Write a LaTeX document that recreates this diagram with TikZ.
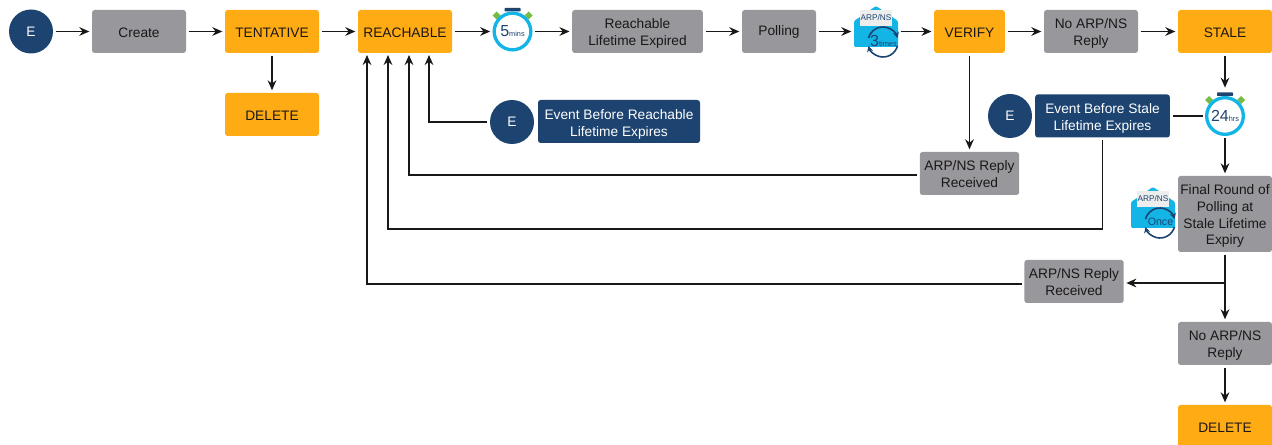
\documentclass[tikz,border=0pt]{standalone}
\usepackage{fontspec}
\setmainfont{Liberation Sans}
\usetikzlibrary{calc,arrows.meta}
\definecolor{statecol}{HTML}{FFAB13}
\definecolor{stepcol}{HTML}{98979B}
\definecolor{eventcol}{HTML}{1D4370}
\definecolor{timercol}{HTML}{12B5E6}
\definecolor{earcol}{HTML}{76BC43}
\definecolor{inkcol}{HTML}{1A1718}
\newcommand{\lowtext}[1][10.5pt]{\rule{0pt}{#1}}
\tikzset{>=stealth,
  flow/.style={draw=inkcol,line width=1.1pt,->,>={Stealth[length=7.5pt,width=6.5pt]}},
  flatline/.style={draw=inkcol,line width=1.1pt},
  basebox/.style={rounded corners=2pt,align=center,text=inkcol,outer sep=2pt,inner sep=0pt,
    minimum height=32.25pt,font=\fontsize{10.3}{12.7}\selectfont,execute at begin node=\lowtext[8.5pt]},
  statebox/.style={basebox,fill=statecol,minimum width=70.5pt},
  stepbox/.style={basebox,fill=stepcol,minimum width=70.5pt},
  eventbox/.style={basebox,fill=eventcol,text=white},
  eventdot/.style={circle,fill=eventcol,text=white,minimum size=33pt,inner sep=0pt,outer sep=2pt,
    font=\fontsize{10.3}{12}\selectfont},
  timerdot/.style={circle,draw=timercol,line width=2.5pt,fill=white,minimum size=27.5pt,inner sep=0pt,
    outer sep=3pt,text=eventcol},
  mailbox/.style={minimum width=33pt,minimum height=20pt,inner sep=0pt,outer sep=2pt},
  turnarrow/.style={eventcol,line width=1.2pt,->,>={Stealth[length=4.5pt,width=4.5pt]}},
}
% #1 node name, #2 position, #3 big text, #4 small text
\newcommand{\stopwatch}[4]{
  \fill[earcol] ($(#2)+(-20,-16)$) -- ++(4,-4) -- ++(4,4) -- ++(-4,4) -- cycle;
  \fill[earcol] ($(#2)+(20,-16)$) -- ++(-4,-4) -- ++(-4,4) -- ++(4,4) -- cycle;
  \fill[eventcol,rounded corners=0.5pt] ($(#2)+(-8,-23.5)$) rectangle ($(#2)+(8,-20)$);
  \node[timerdot] (#1) at (#2) {\fontsize{12}{12}\selectfont #3\fontsize{5.5}{5.5}\selectfont #4};
}
% #1 node name, #2 left end of the envelope, #3 text
\newcommand{\mailicon}[3]{
  \begin{scope}[shift={(#2)}]
    \fill[timercol,rounded corners=1pt] (0,46) -- (0,20) -- (22,5) -- (44,20) -- (44,46) -- cycle;
    \fill[white!93!black] (6,9) rectangle (38,25);
    \node[text=eventcol,inner sep=0pt] (#1paper) at (22,16.5) {\fontsize{6.2}{7}\selectfont ARP/NS};
    \draw[turnarrow] (29,41) ++(195:15) arc[start angle=195,end angle=345,radius=15];
    \draw[turnarrow] (29,41) ++(15:15) arc[start angle=15,end angle=165,radius=15];
    \node[text=eventcol,inner sep=0pt] (#1text) at (29.5,40) {#3};
  \end{scope}
}
\begin{document}
\begin{tikzpicture}[x=0.75pt,y=-0.75pt]
  \useasboundingbox (0,0) rectangle (1272,445);
  \node[eventdot] (startdot) at (31,31.5) {E};
  \node[stepbox] (create) at (139,31.5) {Create};
  \node[statebox] (tentative) at (272,31.5) {TENTATIVE};
  \node[statebox] (delone) at (272,114.5) {DELETE};
  \node[statebox] (reachable) at (405,31.5) {REACHABLE};
  \stopwatch{fivemins}{512.5,31.5}{5}{mins}
  \node[stepbox,minimum width=98pt] (expired) at (637.5,31.5) {\lowtext Reachable\\Lifetime Expired};
  \node[stepbox,minimum width=55.5pt] (polling) at (779,31.5) {Polling};
  \node[mailbox] (threemail) at (876,31.5) {};
  \mailicon{threemail}{854,1}{\fontsize{12}{12}\selectfont 3\fontsize{5.6}{5.6}\selectfont times}
  \node[statebox,minimum width=53pt] (verify) at (969.5,31.5) {VERIFY};
  \node[stepbox] (noreply) at (1091,31.5) {\lowtext No ARP/NS\\Reply};
  \node[statebox] (stale) at (1225,31.5) {STALE};
  \stopwatch{dayhrs}{1225,116}{24}{hrs}
  \node[eventbox,minimum width=101pt] (staleevent) at (1102.5,116) {\lowtext Event Before Stale\\Lifetime Expires};
  \node[eventdot] (staledot) at (1010,116) {E};
  \node[eventdot] (reachdot) at (512,122) {E};
  \node[eventbox,minimum width=121.5pt] (reachevent) at (619,121.5) {\lowtext[12pt]Event Before Reachable\\Lifetime Expires};
  \node[stepbox,minimum width=74.5pt] (replyone) at (969.5,173.5) {\lowtext[9pt]ARP/NS Reply\\Received};
  \node[stepbox,minimum height=57pt] (final) at (1225,214) {\lowtext Final Round of\\Polling at\\Stale Lifetime\\Expiry};
  \node[mailbox] (oncemail) at (1153,214) {};
  \mailicon{oncemail}{1131,182}{\fontsize{8}{8}\selectfont Once}
  \node[stepbox,minimum width=74.5pt] (replytwo) at (1074,281.5) {\lowtext[9pt]ARP/NS Reply\\Received};
  \node[stepbox] (noreplytwo) at (1225,343.5) {\lowtext No ARP/NS\\Reply};
  \node[statebox] (deltwo) at (1225,426.5) {DELETE};
  \coordinate (tapa) at (429,55);
  \coordinate (tapb) at (409,55);
  \coordinate (tapc) at (388,55);
  \coordinate (tapd) at (367,55);
  \coordinate (finaltap) at (1225,283);
  \draw[flow] (startdot) -- (create);
  \draw[flow] (create) -- (tentative);
  \draw[flow] (tentative) -- (delone);
  \draw[flow] (tentative) -- (reachable);
  \draw[flow] (reachable) -- (fivemins);
  \draw[flow] (fivemins) -- (expired);
  \draw[flow] (expired) -- (polling);
  \draw[flow] (polling) -- (threemail);
  \draw[flow] (threemail) -- (verify);
  \draw[flow] (verify) -- (noreply);
  \draw[flow] (noreply) -- (stale);
  \draw[flow,shorten >=4.5pt] (stale) -- (dayhrs);
  \draw[flatline] (staleevent) -- (dayhrs);
  \draw[flow] (dayhrs) -- (final);
  \draw[flow] (final) -- (noreplytwo);
  \draw[flow] (noreplytwo) -- (deltwo);
  \draw[flow] (verify) -- (replyone);
  \draw[flow] (finaltap) -- (finaltap -| replytwo.east);
  \draw[flow] (reachdot) -| (tapa);
  \draw[flow] (replyone.west |- 0,175) -| (tapb);
  \draw[flow] (staleevent.south) -- ++(0,89) -| (tapc);
  \draw[flow] (replytwo.west |- 0,284) -| (tapd);
\end{tikzpicture}
\end{document}
